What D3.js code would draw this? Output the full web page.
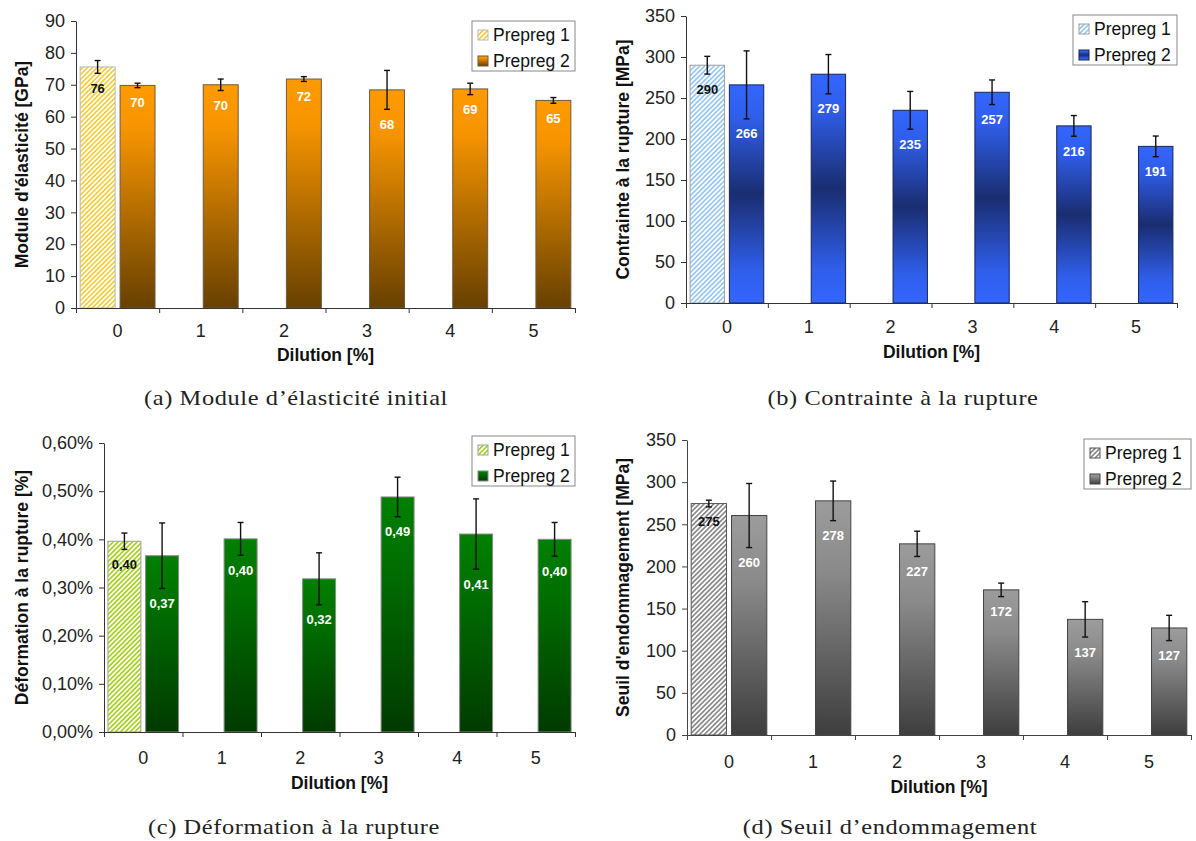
<!DOCTYPE html>
<html><head><meta charset="utf-8">
<script src="https://cdn.jsdelivr.net/npm/d3@7"></script>
<style>body{margin:0;background:#fff} svg{display:block}</style>
</head><body>
<svg id="chart" width="1196" height="841"></svg>
<script>
// ---------- data ----------
const categories = ["0", "1", "2", "3", "4", "5"];
const seriesNames = ["Prepreg 1", "Prepreg 2"];
const xTitle = "Dilution [%]";

// (a) Module d'élasticité initial [GPa]
const moduleP1 = [75.6];
const moduleP1Err = [2.0];
const moduleP2 = [69.8, 70.0, 71.8, 68.4, 68.7, 65.1];
const moduleP2Err = [0.7, 1.8, 0.75, 6.1, 1.8, 0.9];
const moduleTicks = [0, 10, 20, 30, 40, 50, 60, 70, 80, 90];

// (b) Contrainte à la rupture [MPa]
const stressP1 = [290];
const stressP1Err = [10.8];
const stressP2 = [266, 279, 235, 257, 216, 191];
const stressP2Err = [41.5, 24, 23, 15, 12.6, 12.6];
const stressTicks = [0, 50, 100, 150, 200, 250, 300, 350];

// (c) Déformation à la rupture [%]
const strainP1 = [0.396];
const strainP1Err = [0.017];
const strainP2 = [0.366, 0.401, 0.318, 0.488, 0.411, 0.400];
const strainP2Err = [0.068, 0.034, 0.054, 0.041, 0.073, 0.035];
const strainTicks = [0, 0.1, 0.2, 0.3, 0.4, 0.5, 0.6];

// (d) Seuil d'endommagement [MPa]
const damageP1 = [274.6];
const damageP1Err = [4];
const damageP2 = [260.4, 277.8, 226.8, 172.2, 137.2, 127.0];
const damageP2Err = [38, 23.5, 15, 8, 21, 15];
const damageTicks = [0, 50, 100, 150, 200, 250, 300, 350];

// ---------- layout / style ----------
const loc = d3.formatLocale({decimal: ",", thousands: "\u00a0", grouping: [3], currency: ["", "€"]});
const fmt0 = d3.format(".0f");
const fmt2 = loc.format(".2f");

const panels = [
  {key: "a", x0: 76, x1: 575, yTop: 21, y0: 308, ticks: moduleTicks,
   p1: moduleP1, p1Err: moduleP1Err, p2: moduleP2, p2Err: moduleP2Err,
   yTitle: "Module d'élasticité [GPa]", caption: "(a) Module d’élasticité initial",
   tickFmt: d => String(d), labelFmt: d => fmt0(d),
   yTitleX: 22, xLabDy: 23, xTitleDy: 47, capX: 296, capY: 398, legDy: 0, legW: 103,
   grad: [[0, "#FF9A00"], [0.2, "#F69400"], [1, "#674000"]], barStroke: "#6b5a40",
   stripe: "#F2CE3C", p1Stroke: "#b8b8b8", axis: "#333"},
  {key: "b", x0: 686, x1: 1177, yTop: 16, y0: 303, ticks: stressTicks,
   p1: stressP1, p1Err: stressP1Err, p2: stressP2, p2Err: stressP2Err,
   yTitle: "Contrainte à la rupture [MPa]", caption: "(b) Contrainte à la rupture",
   tickFmt: d => String(d), labelFmt: d => fmt0(d),
   yTitleX: 623, xLabDy: 24, xTitleDy: 49, capX: 903, capY: 398, legDy: -1, legW: 104,
   grad: [[0, "#3366FF"], [0.15, "#2F5EEA"], [0.5, "#1A2D70"], [0.85, "#2F5EEA"], [1, "#3366FF"]], barStroke: "#1b2550",
   stripe: "#98C8F2", p1Stroke: "#a0a0a0", axis: "#333"},
  {key: "c", x0: 104, x1: 575, yTop: 443, y0: 732, ticks: strainTicks,
   p1: strainP1, p1Err: strainP1Err, p2: strainP2, p2Err: strainP2Err,
   yTitle: "Déformation à la rupture [%]", caption: "(c) Déformation à la rupture",
   tickFmt: d => fmt2(d) + "%", labelFmt: d => fmt2(d),
   yTitleX: 22, xLabDy: 26, xTitleDy: 51, capX: 294, capY: 827, legDy: -7, legW: 103,
   grad: [[0, "#008000"], [0.3, "#006E00"], [1, "#003A00"]], barStroke: "#8a8a8a",
   stripe: "#A5D21E", p1Stroke: "#a0a0a0", axis: "#333"},
  {key: "d", x0: 687, x1: 1191, yTop: 440, y0: 735, ticks: damageTicks,
   p1: damageP1, p1Err: damageP1Err, p2: damageP2, p2Err: damageP2Err,
   yTitle: "Seuil d'endommagement [MPa]", caption: "(d) Seuil d’endommagement",
   tickFmt: d => String(d), labelFmt: d => fmt0(d),
   yTitleX: 623, xLabDy: 27, xTitleDy: 52, capX: 890, capY: 827, legDy: -1, legW: 107,
   grad: [[0, "#9C9C9C"], [0.3, "#8A8A8A"], [1, "#3E3E3E"]], barStroke: "#444",
   stripe: "#8a8a8a", p1Stroke: "#555", axis: "#444"}
];

const svg = d3.select("#chart");
const defs = svg.append("defs");
const SANS = "'Liberation Sans', Arial, sans-serif";

panels.forEach(p => {
  // gradient for Prepreg 2
  const g = defs.append("linearGradient").attr("id", "grad-" + p.key)
    .attr("x1", 0).attr("y1", 0).attr("x2", 0).attr("y2", 1);
  p.grad.forEach(s => g.append("stop").attr("offset", s[0]).attr("stop-color", s[1]));
  // stripes for Prepreg 1
  const pat = defs.append("pattern").attr("id", "stripe-" + p.key)
    .attr("patternUnits", "userSpaceOnUse").attr("width", 3.4).attr("height", 3.4)
    .attr("patternTransform", "rotate(45)");
  pat.append("rect").attr("width", 3.4).attr("height", 3.4).attr("fill", "#fff");
  pat.append("rect").attr("width", 1.7).attr("height", 3.4).attr("fill", p.stripe);

  const G = svg.append("g");
  const y = d3.scaleLinear().domain([p.ticks[0], p.ticks[p.ticks.length - 1]]).range([p.y0, p.yTop]);
  const xb = d3.scaleBand().domain(categories).range([p.x0, p.x1]).paddingInner(0).paddingOuter(0);
  const xs = d3.scaleBand().domain(seriesNames).range([0, xb.bandwidth()])
    .paddingInner(0.125).paddingOuter(0.104);
  const xLin = d3.scaleLinear().domain([0, categories.length]).range([p.x0, p.x1]);

  // rows
  const rows = [];
  p.p1.forEach((v, i) => rows.push({cat: categories[i], s: seriesNames[0], v, e: p.p1Err[i]}));
  p.p2.forEach((v, i) => rows.push({cat: categories[i], s: seriesNames[1], v, e: p.p2Err[i]}));

  // bars
  G.selectAll("rect.bar").data(rows).join("rect").attr("class", "bar")
    .attr("x", d => xb(d.cat) + xs(d.s))
    .attr("y", d => y(d.v))
    .attr("width", xs.bandwidth())
    .attr("height", d => y(0) - y(d.v))
    .attr("fill", d => d.s === seriesNames[0] ? `url(#stripe-${p.key})` : `url(#grad-${p.key})`)
    .attr("stroke", d => d.s === seriesNames[0] ? p.p1Stroke : p.barStroke)
    .attr("stroke-width", 1);

  // axes
  const ya = d3.axisLeft(y).tickValues(p.ticks).tickFormat(p.tickFmt).tickSize(5).tickSizeOuter(0).tickPadding(6);
  const yg = G.append("g").attr("transform", `translate(${p.x0},0)`).call(ya);
  yg.selectAll("text").attr("font-family", SANS).attr("font-size", 18).attr("fill", "#222");
  yg.selectAll("line,path").attr("stroke", p.axis);

  const xa = d3.axisBottom(xLin).tickValues(d3.range(categories.length + 1)).tickFormat("").tickSize(5).tickSizeOuter(0);
  const xg = G.append("g").attr("transform", `translate(0,${p.y0})`).call(xa);
  xg.selectAll("line,path").attr("stroke", p.axis);
  const xl = d3.axisBottom(xb).tickSize(0).tickPadding(0);
  const xlg = G.append("g").attr("transform", `translate(0,${p.y0 + p.xLabDy})`).call(xl);
  xlg.select("path").remove();
  xlg.selectAll("text").attr("font-family", SANS).attr("font-size", 18).attr("fill", "#222").attr("dy", "0.35em");

  // error bars
  const cx = d => xb(d.cat) + xs(d.s) + xs.bandwidth() / 2;
  const eb = G.selectAll("g.err").data(rows).join("g").attr("class", "err")
    .attr("stroke", "#111").attr("stroke-width", 1.4);
  eb.append("line").attr("x1", cx).attr("x2", cx).attr("y1", d => y(d.v + d.e)).attr("y2", d => y(d.v - d.e));
  eb.append("line").attr("x1", d => cx(d) - 3).attr("x2", d => cx(d) + 3).attr("y1", d => y(d.v + d.e)).attr("y2", d => y(d.v + d.e));
  eb.append("line").attr("x1", d => cx(d) - 3).attr("x2", d => cx(d) + 3).attr("y1", d => y(d.v - d.e)).attr("y2", d => y(d.v - d.e));

  // value labels
  G.selectAll("text.val").data(rows).join("text").attr("class", "val")
    .attr("x", cx).attr("y", d => y(d.v - d.e) + 15).attr("dy", "0.35em")
    .attr("text-anchor", "middle").attr("font-family", SANS).attr("font-weight", "bold").attr("font-size", 13)
    .attr("fill", d => d.s === seriesNames[0] ? "#111" : "#fff")
    .text(d => p.labelFmt(d.v));

  // titles
  G.append("text").attr("transform", `translate(${p.yTitleX},${(p.yTop + p.y0) / 2}) rotate(-90)`)
    .attr("text-anchor", "middle").attr("dy", "0.35em").attr("font-family", SANS).attr("font-weight", "bold")
    .attr("font-size", 17.5).attr("fill", "#111").text(p.yTitle);
  G.append("text").attr("x", (p.x0 + p.x1) / 2).attr("y", p.y0 + p.xTitleDy).attr("dy", "0.35em")
    .attr("text-anchor", "middle").attr("font-family", SANS).attr("font-weight", "bold")
    .attr("font-size", 17.5).attr("fill", "#111").text(xTitle);

  // legend
  const lx = p.x1 - p.legW, ly = p.yTop + p.legDy;
  const L = G.append("g").attr("transform", `translate(${lx},${ly})`);
  L.append("rect").attr("width", p.legW).attr("height", 50).attr("fill", "#fff").attr("stroke", "#888");
  seriesNames.forEach((s, i) => {
    const rowY = 14 + i * 26;
    L.append("rect").attr("x", 6).attr("y", rowY - 5).attr("width", 10).attr("height", 10)
      .attr("fill", i === 0 ? `url(#stripe-${p.key})` : `url(#grad-${p.key})`)
      .attr("stroke", i === 0 ? p.p1Stroke : p.barStroke);
    L.append("text").attr("x", 21).attr("y", rowY).attr("dy", "0.35em")
      .attr("font-family", SANS).attr("font-size", 17.5).attr("fill", "#111").text(s);
  });

  // caption (serif, widened to match LaTeX Computer Modern proportions)
  svg.append("g").attr("transform", `translate(${p.capX},${p.capY}) scale(1.22,1)`)
    .append("text").attr("dy", "0.35em").attr("text-anchor", "middle")
    .attr("font-family", "'Liberation Serif', 'Times New Roman', serif").attr("font-size", 20)
    .attr("letter-spacing", 0.5).attr("fill", "#222").text(p.caption);
});
</script>
</body></html>
